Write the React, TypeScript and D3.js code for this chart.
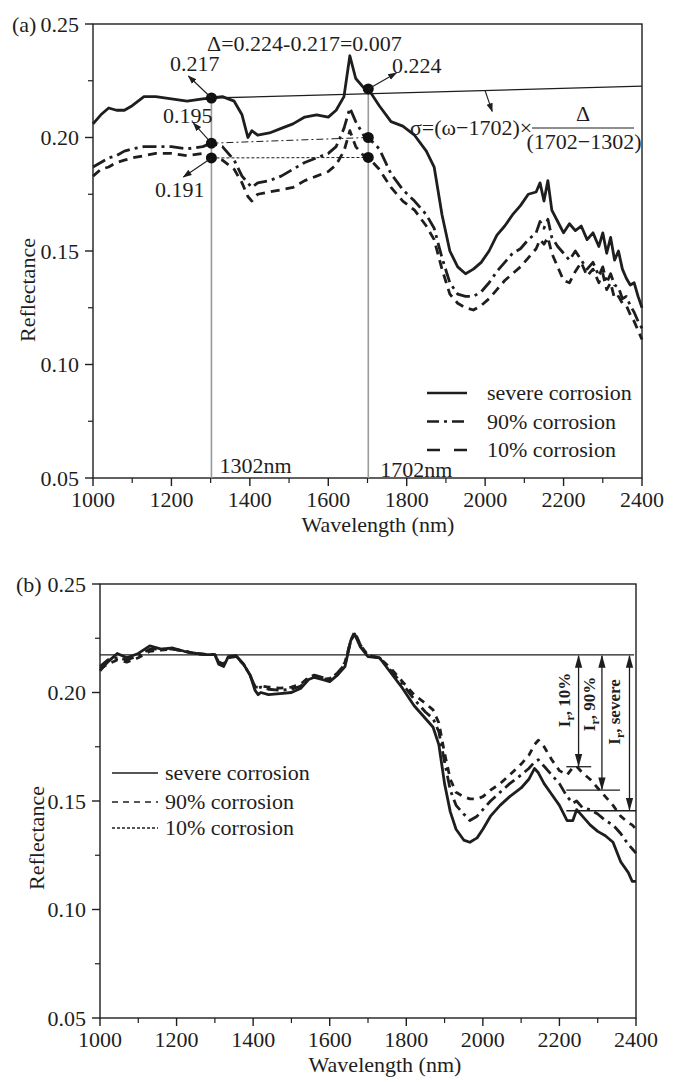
import React from "react";
import * as d3 from "d3";

// ---- data ----
const wavelengthsA = [1000, 1020, 1040, 1060, 1080, 1100, 1130, 1160, 1200, 1240, 1280, 1302, 1330, 1360, 1380, 1395, 1405, 1420, 1450, 1480, 1510, 1540, 1570, 1600, 1620, 1640, 1655, 1670, 1690, 1702, 1730, 1760, 1790, 1820, 1850, 1870, 1890, 1910, 1930, 1950, 1970, 1990, 2010, 2030, 2050, 2070, 2090, 2110, 2130, 2140, 2150, 2160, 2170, 2185, 2200, 2215, 2230, 2245, 2260, 2275, 2290, 2300, 2310, 2320, 2330, 2340, 2350, 2360, 2370, 2380, 2390, 2400];
const severeA = [0.206, 0.21, 0.213, 0.212, 0.212, 0.214, 0.218, 0.218, 0.217, 0.216, 0.217, 0.2174, 0.218, 0.216, 0.21, 0.2, 0.203, 0.201, 0.202, 0.204, 0.206, 0.209, 0.21, 0.209, 0.212, 0.218, 0.236, 0.226, 0.222, 0.2214, 0.214, 0.207, 0.205, 0.201, 0.194, 0.187, 0.166, 0.15, 0.143, 0.14, 0.142, 0.145, 0.15, 0.157, 0.161, 0.166, 0.17, 0.175, 0.176, 0.18, 0.172, 0.181, 0.168, 0.163, 0.158, 0.162, 0.159, 0.161, 0.155, 0.158, 0.152, 0.158, 0.149, 0.156, 0.146, 0.15, 0.142, 0.138, 0.135, 0.136, 0.13, 0.125];
const ninetyA = [0.187, 0.189, 0.191, 0.192, 0.194, 0.195, 0.196, 0.196, 0.196, 0.195, 0.196, 0.1975, 0.196, 0.19, 0.183, 0.18, 0.178, 0.18, 0.181, 0.183, 0.186, 0.189, 0.191, 0.193, 0.196, 0.204, 0.213, 0.207, 0.201, 0.2, 0.195, 0.184, 0.177, 0.172, 0.166, 0.16, 0.147, 0.136, 0.131, 0.13, 0.13, 0.132, 0.136, 0.141, 0.145, 0.149, 0.151, 0.155, 0.158, 0.163, 0.16, 0.164, 0.156, 0.152, 0.149, 0.146, 0.15, 0.146, 0.142, 0.145, 0.139, 0.143, 0.136, 0.14, 0.135, 0.134, 0.129, 0.13, 0.126, 0.123, 0.119, 0.116];
const tenA = [0.183, 0.186, 0.187, 0.189, 0.19, 0.191, 0.192, 0.193, 0.193, 0.192, 0.193, 0.191, 0.19, 0.186, 0.18, 0.174, 0.172, 0.175, 0.176, 0.177, 0.178, 0.181, 0.183, 0.185, 0.188, 0.194, 0.203, 0.196, 0.192, 0.1912, 0.186, 0.178, 0.172, 0.168, 0.161, 0.155, 0.142, 0.131, 0.127, 0.125, 0.124, 0.126, 0.129, 0.133, 0.137, 0.14, 0.143, 0.147, 0.151, 0.155, 0.153, 0.156, 0.149, 0.143, 0.137, 0.136, 0.141, 0.145, 0.139, 0.142, 0.136, 0.14, 0.133, 0.136, 0.129, 0.13, 0.127, 0.126, 0.122, 0.119, 0.115, 0.111];

const wavelengthsB = [1000, 1020, 1045, 1070, 1100, 1130, 1160, 1190, 1220, 1250, 1280, 1300, 1310, 1323, 1335, 1355, 1375, 1392, 1405, 1413, 1420, 1440, 1470, 1500, 1525, 1545, 1560, 1580, 1600, 1620, 1640, 1655, 1665, 1680, 1700, 1730, 1760, 1790, 1820, 1850, 1870, 1885, 1900, 1915, 1930, 1950, 1966, 1985, 2000, 2020, 2045, 2070, 2100, 2120, 2135, 2145, 2160, 2180, 2200, 2220, 2235, 2245, 2260, 2280, 2300, 2320, 2340, 2360, 2380, 2390, 2400];
const severeB = [0.21, 0.214, 0.218, 0.216, 0.218, 0.2215, 0.22, 0.2205, 0.219, 0.218, 0.2175, 0.2175, 0.213, 0.212, 0.2165, 0.217, 0.213, 0.208, 0.201, 0.199, 0.2, 0.199, 0.1995, 0.2, 0.202, 0.206, 0.207, 0.206, 0.205, 0.208, 0.212, 0.224, 0.227, 0.221, 0.2165, 0.216, 0.209, 0.202, 0.194, 0.188, 0.184, 0.176, 0.158, 0.145, 0.137, 0.132, 0.131, 0.133, 0.137, 0.143, 0.148, 0.152, 0.156, 0.16, 0.165, 0.163, 0.158, 0.153, 0.148, 0.141, 0.141, 0.146, 0.143, 0.139, 0.136, 0.134, 0.131, 0.122, 0.117, 0.113, 0.113];
const ninetyB = [0.212, 0.215, 0.216, 0.215, 0.217, 0.22, 0.22, 0.22, 0.219, 0.218, 0.2175, 0.2175, 0.214, 0.213, 0.216, 0.217, 0.213, 0.208, 0.2025, 0.202, 0.2025, 0.2015, 0.201, 0.2015, 0.203, 0.207, 0.208, 0.207, 0.206, 0.209, 0.213, 0.224, 0.227, 0.222, 0.217, 0.216, 0.21, 0.204, 0.197, 0.191, 0.188, 0.182, 0.168, 0.155, 0.148, 0.144, 0.141, 0.143, 0.146, 0.15, 0.154, 0.158, 0.162, 0.165, 0.168, 0.169, 0.166, 0.162, 0.158, 0.152, 0.149, 0.15, 0.147, 0.146, 0.144, 0.141, 0.139, 0.135, 0.13, 0.128, 0.126];
const tenB = [0.211, 0.213, 0.215, 0.214, 0.216, 0.219, 0.2195, 0.22, 0.219, 0.2178, 0.2175, 0.2175, 0.214, 0.213, 0.216, 0.2165, 0.213, 0.208, 0.2025, 0.2025, 0.203, 0.2025, 0.202, 0.2025, 0.204, 0.207, 0.2075, 0.206, 0.2065, 0.208, 0.214, 0.224, 0.228, 0.222, 0.217, 0.216, 0.211, 0.205, 0.199, 0.195, 0.192, 0.186, 0.172, 0.16, 0.154, 0.152, 0.151, 0.151, 0.152, 0.155, 0.158, 0.162, 0.167, 0.171, 0.176, 0.178, 0.175, 0.169, 0.164, 0.162, 0.1655, 0.166, 0.163, 0.16, 0.156, 0.152, 0.148, 0.143, 0.14, 0.139, 0.137];

const xTicks = [1000, 1200, 1400, 1600, 1800, 2000, 2200, 2400];
const xMinorTicks = [1100, 1300, 1500, 1700, 1900, 2100, 2300];
const yTicks = [0.05, 0.1, 0.15, 0.2, 0.25];
const yMinorTicks = [0.075, 0.125, 0.175, 0.225];
const legendLabels = ["severe corrosion", "90% corrosion", "10% corrosion"];

// panel (a) annotation values
const markA = [1302, 1702];
const severeMarks = [0.2174, 0.2214];
const ninetyMarks = [0.1975, 0.2];
const tenMarks = [0.191, 0.1912];
const trendEnd = 0.2226;

// panel (b) annotation values
const refLevel = 0.2173;
const irLevels = [0.1658, 0.155, 0.1455];
const irX = [2250, 2311, 2383];
const irLineEnd = [2283, 2358, 2400];
const irLabels = ["10%", "90%", "severe"];

const FONT = '"Liberation Serif", "Times New Roman", serif';
const INK = "#1e1e1e";

function Frame({ x, y, tag, tagX, yTitle, xTitleX }) {
  const [x0, x1] = x.range();
  const [y0, y1] = y.range();
  const fmt = d3.format(".2f");
  return (
    <g fontFamily={FONT} fill={INK}>
      <rect x={x0} y={y1} width={x1 - x0} height={y0 - y1} fill="none" stroke={INK} strokeWidth={1.4} />
      {xTicks.map((t) => (
        <g key={"x" + t}>
          <line x1={x(t)} x2={x(t)} y1={y0} y2={y0 + 8} stroke={INK} strokeWidth={1.4} />
          <text x={x(t)} y={y0 + 29} textAnchor="middle" fontSize={22}>{t}</text>
        </g>
      ))}
      {xMinorTicks.map((t) => (
        <line key={"xm" + t} x1={x(t)} x2={x(t)} y1={y0} y2={y0 + 5} stroke={INK} strokeWidth={1.2} />
      ))}
      {yTicks.map((t) => (
        <g key={"y" + t}>
          <line x1={x0 - 8} x2={x0} y1={y(t)} y2={y(t)} stroke={INK} strokeWidth={1.4} />
          <text x={x0 - 14} y={y(t)} dy="0.35em" textAnchor="end" fontSize={22}>{fmt(t)}</text>
        </g>
      ))}
      {yMinorTicks.map((t) => (
        <line key={"ym" + t} x1={x0 - 5} x2={x0} y1={y(t)} y2={y(t)} stroke={INK} strokeWidth={1.2} />
      ))}
      <text x={tagX} y={y(0.25)} dy="0.35em" fontSize={22}>{tag}</text>
      <text x={xTitleX} y={y0 + 54} textAnchor="middle" fontSize={22}>Wavelength (nm)</text>
      <text transform={`translate(${yTitle[0]},${yTitle[1]}) rotate(-90)`} textAnchor="middle" dominantBaseline="central" fontSize={22}>Reflectance</text>
    </g>
  );
}

export default function App() {
  // panel (a)
  const xA = d3.scaleLinear().domain([1000, 2400]).range([93, 642]);
  const yA = d3.scaleLinear().domain([0.05, 0.25]).range([478, 24]);
  // panel (b)
  const xB = d3.scaleLinear().domain([1000, 2400]).range([100, 636]);
  const yB = d3.scaleLinear().domain([0.05, 0.25]).range([1018, 584]);

  const lineA = d3.line<number>().x((_, i) => xA(wavelengthsA[i])).y((d) => yA(d));
  const lineB = d3.line<number>().x((_, i) => xB(wavelengthsB[i])).y((d) => yB(d));

  const seriesA = [
    { values: severeA, dash: "none" },
    { values: ninetyA, dash: "14 5 3 5" },
    { values: tenA, dash: "9 6" },
  ];
  const seriesB = [
    { values: severeB, dash: "none" },
    { values: ninetyB, dash: "12 5 3 5" },
    { values: tenB, dash: "7 6" },
  ];
  const legendDashA = ["none", "12 5 3 5", "13 14"];
  const legendDashB = ["none", "6 5", "3 2"];

  const arrowOffsets = [
    [-23, -22],
    [-18, -20],
    [-28, 19],
  ];

  return (
    <svg width={680} height={1082} style={{ position: "absolute", left: 0, top: 0, background: "#fff" }}>
      <defs>
        <marker id="ah" viewBox="0 0 10 10" refX={9} refY={5} markerWidth={9} markerHeight={9} markerUnits="userSpaceOnUse" orient="auto-start-reverse">
          <path d="M0,1.5 L10,5 L0,8.5 Z" fill={INK} />
        </marker>
        <marker id="ahb" viewBox="0 0 10 10" refX={9} refY={5} markerWidth={13} markerHeight={13} markerUnits="userSpaceOnUse" orient="auto-start-reverse">
          <path d="M0,2.2 L10,5 L0,7.8 Z" fill={INK} />
        </marker>
      </defs>

      {/* ---------- panel (a) ---------- */}
      <Frame x={xA} y={yA} tag="(a)" tagX={12} yTitle={[27, 290]} xTitleX={378} />

      {markA.map((w, i) => (
        <line key={"g" + w} x1={xA(w)} x2={xA(w)} y1={yA(severeMarks[i])} y2={yA(0.05)} stroke="#9a9a9a" strokeWidth={1.6} />
      ))}
      <line x1={xA(1302)} y1={yA(severeMarks[0])} x2={xA(2400)} y2={yA(trendEnd)} stroke={INK} strokeWidth={1.3} />
      <line x1={xA(1302)} y1={yA(ninetyMarks[0])} x2={xA(1702)} y2={yA(ninetyMarks[1])} stroke={INK} strokeWidth={1} strokeDasharray="7 3 2 3" />
      <line x1={xA(1302)} y1={yA(tenMarks[0])} x2={xA(1702)} y2={yA(tenMarks[1])} stroke={INK} strokeWidth={1} strokeDasharray="3 2" />

      {seriesA.map((s, i) => (
        <path key={"a" + i} d={lineA(s.values) || ""} fill="none" stroke={INK} strokeWidth={2.8} strokeDasharray={s.dash} strokeLinejoin="round" />
      ))}

      {markA.map((w, i) =>
        [severeMarks[i], ninetyMarks[i], tenMarks[i]].map((v, j) => (
          <circle key={w + "-" + j} cx={xA(w)} cy={yA(v)} r={5.5} fill="#111" />
        ))
      )}

      {[severeMarks[0], ninetyMarks[0], tenMarks[0]].map((v, j) => (
        <line key={"arr" + j} x1={xA(1302)} y1={yA(v)} x2={xA(1302) + arrowOffsets[j][0]} y2={yA(v) + arrowOffsets[j][1]} stroke={INK} strokeWidth={1.1} markerEnd="url(#ah)" />
      ))}
      <line x1={xA(1702)} y1={yA(severeMarks[1])} x2={xA(1702) + 28} y2={yA(severeMarks[1]) - 16} stroke={INK} strokeWidth={1.1} markerEnd="url(#ah)" />
      <line x1={xA(2000)} y1={yA(0.2206)} x2={xA(2018)} y2={yA(0.2115)} stroke={INK} strokeWidth={1.1} markerEnd="url(#ah)" />

      <g fontFamily={FONT} fill={INK} fontSize={22}>
        <text x={170} y={71}>0.217</text>
        <text x={163} y={123}>0.195</text>
        <text x={155} y={197}>0.191</text>
        <text x={392} y={73}>0.224</text>
        <text x={207} y={51}>Δ=0.224-0.217=0.007</text>
        <text x={xA(1302) + 8} y={473}>1302nm</text>
        <text x={xA(1702) + 12} y={477}>1702nm</text>
        <text x={410} y={135}>σ=(ω−1702)×</text>
        <text x={583} y={121} textAnchor="middle">Δ</text>
        <line x1={532} x2={634} y1={128} y2={128} stroke={INK} strokeWidth={1.2} />
        <text x={584} y={149} textAnchor="middle">(1702−1302)</text>
      </g>

      {legendLabels.map((l, i) => (
        <g key={"la" + i} fontFamily={FONT} fontSize={22} fill={INK}>
          <line x1={427} x2={467} y1={393 + i * 28.5} y2={393 + i * 28.5} stroke={INK} strokeWidth={2.6} strokeDasharray={legendDashA[i]} />
          <text x={487} y={393 + i * 28.5} dy="0.33em">{l}</text>
        </g>
      ))}

      {/* ---------- panel (b) ---------- */}
      <Frame x={xB} y={yB} tag="(b)" tagX={16} yTitle={[36, 838]} xTitleX={385} />

      <line x1={xB(1000)} x2={xB(2395)} y1={yB(refLevel)} y2={yB(refLevel)} stroke={INK} strokeWidth={1.3} />

      {seriesB.map((s, i) => (
        <path key={"b" + i} d={lineB(s.values) || ""} fill="none" stroke={INK} strokeWidth={2.8} strokeDasharray={s.dash} strokeLinejoin="round" />
      ))}

      {irLevels.map((v, i) => (
        <g key={"ir" + i}>
          <line x1={xB(2218)} x2={xB(irLineEnd[i])} y1={yB(v)} y2={yB(v)} stroke={INK} strokeWidth={1.3} />
          <line x1={xB(irX[i])} x2={xB(irX[i])} y1={yB(refLevel) + 1} y2={yB(v) - 1} stroke={INK} strokeWidth={1.3} markerStart="url(#ahb)" markerEnd="url(#ahb)" />
        </g>
      ))}
      {irLabels.map((l, i) => {
        const cx = [570, 595, 620][i];
        const cy = [700, 704, 712][i];
        return (
          <text key={"irl" + i} transform={`translate(${cx},${cy}) rotate(-90)`} textAnchor="middle" fontFamily={FONT} fontWeight="bold" fontSize={17} fill={INK}>
            I<tspan fontSize={12} dy={4}>r</tspan>
            <tspan dy={-4}>, {l}</tspan>
          </text>
        );
      })}

      {legendLabels.map((l, i) => {
        const yy = [773, 802, 828][i];
        return (
          <g key={"lb" + i} fontFamily={FONT} fontSize={22} fill={INK}>
            <line x1={112} x2={158} y1={yy} y2={yy} stroke={INK} strokeWidth={1.3} strokeDasharray={legendDashB[i]} />
            <text x={165} y={yy} dy="0.33em">{l}</text>
          </g>
        );
      })}
    </svg>
  );
}
